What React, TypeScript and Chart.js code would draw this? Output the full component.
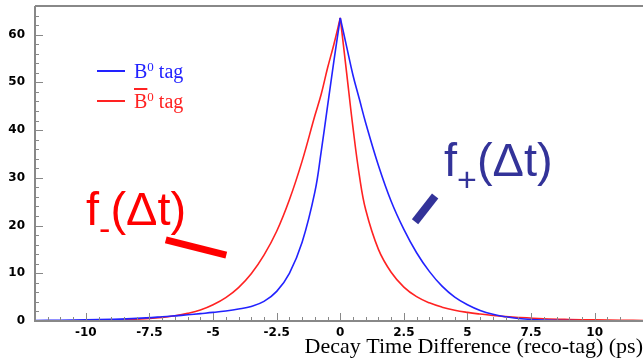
import React, { useEffect, useRef } from "react";
import { Chart, registerables } from "chart.js";

Chart.register(...registerables);

// Decay time difference Δt (ps), sample positions
const deltaT = [
  -12, -11, -10, -9, -8, -7, -6.5, -6, -5.5, -5, -4.5, -4, -3.5, -3, -2.5, -2, -1.5, -1, -0.75, -0.5, -0.25,
  0,
  0.25, 0.5, 0.75, 1, 1.5, 2, 2.5, 3, 3.5, 4, 4.5, 5, 5.5, 6, 6.5, 7, 8, 9, 10, 11, 12,
];

// B0 tag  (f+)
const b0Tag = [
  0.1, 0.15, 0.23, 0.36, 0.56, 0.88, 1.08, 1.3, 1.55, 1.8, 2.1, 2.5, 3.05, 4.1, 6.2, 10, 16.5, 27, 35.5, 45, 54.5,
  63.5,
  57.5, 51.5, 46.5, 41.5, 32.6, 25.1, 19.2, 14.3, 10.4, 7.3, 5.0, 3.4, 2.2, 1.4, 0.88, 0.53, 0.2, 0.09, 0.05, 0.03, 0.02,
];

// B0bar tag  (f-)
const b0barTag = [
  0.02, 0.04, 0.08, 0.17, 0.36, 0.75, 1.1, 1.6, 2.3, 3.4, 4.9, 7.0, 9.9, 13.8, 18.8, 25.4, 33.5, 43, 47.5, 53, 58,
  63.5,
  52, 40.5, 30.5, 23.3, 15.0, 10.2, 7.1, 5.1, 3.8, 2.9, 2.25, 1.8, 1.45, 1.15, 0.92, 0.74, 0.48, 0.33, 0.23, 0.16, 0.11,
];

const xMajorLabels = [-10, -7.5, -5, -2.5, 0, 2.5, 5, 7.5, 10];
const yMajorLabels = [0, 10, 20, 30, 40, 50, 60];

const BLUE = "#2222ff";
const RED = "#ff2222";
const NAVY = "#333399";
const AXIS_GREY = "#888888";

// annotation bars in data coordinates [Δt, value]
const annotationBars = [
  { from: [-6.86, 17.0], to: [-4.48, 13.8], color: "#ff0000", width: 7 },
  { from: [2.94, 20.8], to: [3.73, 26.2], color: NAVY, width: 8 },
];

const near = (a: number, b: number) => Math.abs(a - b) < 1e-6;

const half = (side: "left" | "right", values: number[]) =>
  deltaT
    .map((x, i) => ({ x, y: values[i] }))
    .filter((p) => (side === "left" ? p.x <= 0 : p.x >= 0));

const framePlugin = {
  id: "frameTicks",
  afterDatasetsDraw(chart: any) {
    const { ctx, chartArea: a, scales } = chart;
    const xs = scales.x;
    const ys = scales.y;
    ctx.save();
    ctx.strokeStyle = AXIS_GREY;
    ctx.lineWidth = 1;
    ctx.beginPath();
    xs.ticks.forEach((t: any) => {
      const v = t.value;
      if (!near(v * 2, Math.round(v * 2))) return;
      const major = xMajorLabels.some((m) => near(m, v));
      const px = Math.round(xs.getPixelForValue(v)) + 0.5;
      ctx.moveTo(px, a.bottom);
      ctx.lineTo(px, a.bottom - (major ? 8 : 4));
    });
    ys.ticks.forEach((t: any) => {
      const v = t.value;
      if (!near(v / 2, Math.round(v / 2))) return;
      const major = yMajorLabels.some((m) => near(m, v));
      const py = Math.round(ys.getPixelForValue(v)) + 0.5;
      ctx.moveTo(a.left, py);
      ctx.lineTo(a.left + (major ? 8 : 4), py);
    });
    ctx.stroke();

    ctx.lineWidth = 2;
    ctx.beginPath();
    ctx.moveTo(a.left, a.top);
    ctx.lineTo(a.right, a.top);
    ctx.moveTo(a.left, a.top);
    ctx.lineTo(a.left, a.bottom);
    ctx.lineTo(a.right, a.bottom);
    ctx.stroke();

    annotationBars.forEach((b) => {
      ctx.strokeStyle = b.color;
      ctx.lineWidth = b.width;
      ctx.lineCap = "butt";
      ctx.beginPath();
      ctx.moveTo(xs.getPixelForValue(b.from[0]), ys.getPixelForValue(b.from[1]));
      ctx.lineTo(xs.getPixelForValue(b.to[0]), ys.getPixelForValue(b.to[1]));
      ctx.stroke();
    });
    ctx.restore();
  },
};

export default function App() {
  const canvasRef = useRef<HTMLCanvasElement | null>(null);

  useEffect(() => {
    if (!canvasRef.current) return;
    const lineStyle = {
      borderWidth: 1.6,
      pointRadius: 0,
      fill: false,
      tension: 0.4,
    };
    const tickFont = { family: "DejaVu Sans", weight: "bold" as const, size: 12 };
    const chart = new Chart(canvasRef.current, {
      type: "line",
      data: {
        datasets: [
          { label: "B0 tag", data: half("left", b0Tag), borderColor: BLUE, ...lineStyle },
          { label: "B0 tag", data: half("right", b0Tag), borderColor: BLUE, ...lineStyle },
          { label: "B0bar tag", data: half("left", b0barTag), borderColor: RED, ...lineStyle },
          { label: "B0bar tag", data: half("right", b0barTag), borderColor: RED, ...lineStyle },
        ],
      },
      options: {
        responsive: false,
        animation: false,
        layout: { padding: { top: 6, right: 1, left: 0, bottom: 0 } },
        plugins: { legend: { display: false }, tooltip: { enabled: false } },
        scales: {
          x: {
            type: "linear",
            min: -12,
            max: 11.9,
            grid: { display: false, drawTicks: false },
            border: { display: false },
            ticks: {
              stepSize: 0.5,
              autoSkip: false,
              maxRotation: 0,
              padding: 5,
              color: "#000",
              font: tickFont,
              callback: (v: any) => (xMajorLabels.some((m) => near(m, Number(v))) ? String(v) : ""),
            },
            title: {
              display: true,
              text: "Decay Time Difference (reco-tag) (ps)",
              align: "end",
              color: "#000",
              font: { family: "Liberation Serif", size: 22 },
              padding: { top: 0, bottom: 3 },
            },
            afterFit: (s: any) => {
              s.height = 42;
              s.paddingLeft = 0;
              s.paddingRight = 0;
            },
          },
          y: {
            type: "linear",
            min: 0,
            max: 66,
            grid: { display: false, drawTicks: false },
            border: { display: false },
            ticks: {
              stepSize: 2,
              autoSkip: false,
              padding: 10,
              color: "#000",
              font: tickFont,
              callback: (v: any) => (yMajorLabels.some((m) => near(m, Number(v))) ? String(v) : ""),
            },
            afterFit: (s: any) => {
              s.width = 35;
              s.paddingTop = 0;
              s.paddingBottom = 0;
            },
          },
        },
      },
      plugins: [framePlugin],
    });
    return () => chart.destroy();
  }, []);

  const serif = '"Liberation Serif", "DejaVu Serif", serif';
  const sans = '"Liberation Sans", Arial, sans-serif';

  return (
    <div style={{ position: "absolute", left: 0, top: 0, width: 644, height: 363, background: "#fff" }}>
      <canvas ref={canvasRef} width={644} height={363} style={{ display: "block" }} />
      {/* legend */}
      <div style={{ position: "absolute", left: 97, top: 70, width: 28, height: 1.5, background: BLUE }} />
      <div
        style={{ position: "absolute", left: 134, top: 61, fontFamily: serif, fontSize: 20, lineHeight: "20px", color: BLUE, whiteSpace: "nowrap" }}
      >
        B<span style={{ fontSize: 13, position: "relative", top: -7 }}>0</span> tag
      </div>
      <div style={{ position: "absolute", left: 97, top: 100, width: 28, height: 1.5, background: RED }} />
      <div
        style={{ position: "absolute", left: 134, top: 91, fontFamily: serif, fontSize: 20, lineHeight: "20px", color: RED, whiteSpace: "nowrap" }}
      >
        <span style={{ textDecoration: "overline" }}>B</span>
        <span style={{ fontSize: 13, position: "relative", top: -7 }}>0</span> tag
      </div>
      {/* annotations */}
      <div
        style={{ position: "absolute", left: 444, top: 136, fontFamily: sans, fontSize: 47, lineHeight: "47px", color: NAVY, whiteSpace: "nowrap" }}
      >
        f<span style={{ fontSize: 34, position: "relative", top: 15 }}>+</span>(Δt)
      </div>
      <div
        style={{ position: "absolute", left: 86, top: 185, fontFamily: sans, fontSize: 47, lineHeight: "47px", color: "#ff0000", whiteSpace: "nowrap" }}
      >
        f<span style={{ fontSize: 34, position: "relative", top: 15 }}>-</span>(Δt)
      </div>
    </div>
  );
}
